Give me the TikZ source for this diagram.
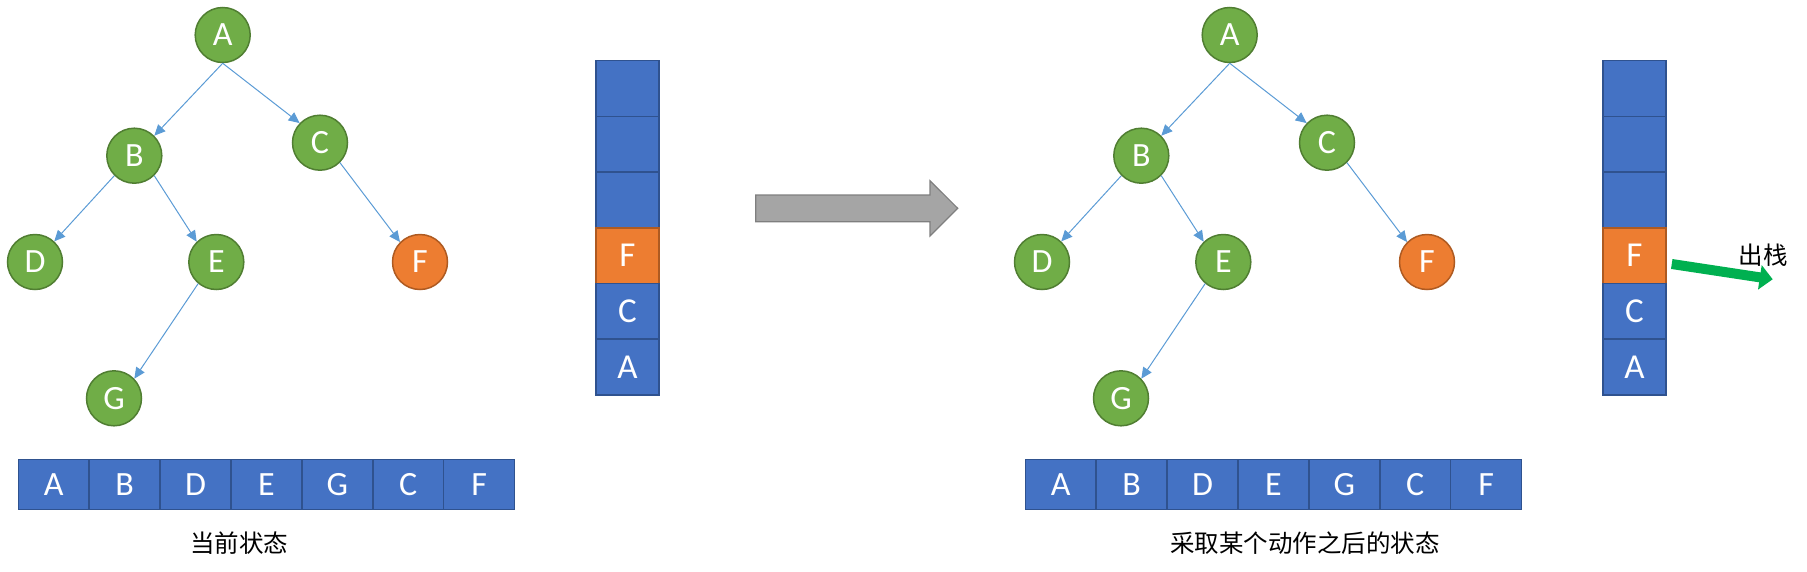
\documentclass[tikz,border=0pt]{standalone}
\usepackage{fontspec}
\setmainfont{Carlito}
\newfontfamily\cjk{Noto Sans CJK SC}
\usetikzlibrary{arrows.meta,calc}
\definecolor{greenfill}{HTML}{70AD47}
\definecolor{greenborder}{HTML}{507E32}
\definecolor{orangefill}{HTML}{ED7D31}
\definecolor{orangeborder}{HTML}{AE5A21}
\definecolor{bluefill}{HTML}{4472C4}
\definecolor{blueborder}{HTML}{2F528F}
\definecolor{edgeblue}{HTML}{5B9BD5}
\definecolor{grayfill}{HTML}{A5A5A5}
\definecolor{grayborder}{HTML}{7F7F7F}
\definecolor{popgreen}{HTML}{00B050}
\tikzset{
  tn/.style={circle, minimum size=55, inner sep=0, draw=greenborder, line width=1.5, fill=greenfill, text=white, font=\fontsize{34}{34}\selectfont},
  tnhot/.style={tn, draw=orangeborder, fill=orangefill},
  edgearr/.style={draw=edgeblue, line width=1, -{Triangle[length=11pt,width=10pt]}},
  scell/.style={rectangle, draw=blueborder, fill=bluefill, line width=1.5, minimum width=63, minimum height=55.7, inner sep=0, text=white, font=\fontsize{35}{35}\selectfont},
  scellhot/.style={scell, draw=orangeborder, fill=orangefill},
  acell/.style={rectangle, draw=blueborder, fill=bluefill, line width=1.5, minimum width=70.9, minimum height=50, inner sep=0, text=white, font=\fontsize{34}{34}\selectfont},
  caption/.style={font=\cjk\fontsize{24.5}{24.5}\selectfont, text=black, inner sep=0}
}
\newcommand{\statepanel}[1]{%
  \node[tn] (#1A) at (222.7,35) {A};
  \node[tn] (#1B) at (134.3,155.7) {B};
  \node[tn] (#1C) at (320,142.7) {C};
  \node[tn] (#1D) at (35,262) {D};
  \node[tn] (#1E) at (216.3,262) {E};
  \node[tnhot] (#1F) at (420,262) {F};
  \node[tn] (#1G) at (114,398.3) {G};
  \draw[edgearr] (#1A.south) -- (#1B.45);
  \draw[edgearr] (#1A.south) -- (#1C.136);
  \draw[edgearr] (#1B.225) -- (#1D.47);
  \draw[edgearr] (#1B.-45) -- (#1E.134);
  \draw[edgearr] (#1C.-45) -- (#1F.135);
  \draw[edgearr] (#1E.230) -- (#1G.44);
  \node[scell] (#1s1) at (627.5,88.5) {};
  \node[scell] (#1s2) at (627.5,144.2) {};
  \node[scell] (#1s3) at (627.5,199.9) {};
  \node[scellhot] (#1s4) at (627.5,255.6) {F};
  \node[scell] (#1s5) at (627.5,311.3) {C};
  \node[scell] (#1s6) at (627.5,367) {A};
  \foreach \t [count=\i from 0] in {A,B,D,E,G,C,F}{
    \node[acell] (#1a\i) at (53.75+\i*70.9,484.3) {\t};
  }
}
\begin{document}
\begin{tikzpicture}[x=1pt,y=-1pt]
\useasboundingbox (0,0) rectangle (1807,571);
\statepanel{l}
\node[caption] (lcap) at (239.2,543.3) {当前状态};
\draw[draw=grayborder, fill=grayfill, line width=1.2]
  (755.7,195) -- (930,195) -- (930,180.7) -- (957.7,208.3) -- (930,236) -- (930,221.7) -- (755.7,221.7) -- cycle;
\begin{scope}[xshift=1007pt]
\statepanel{r}
\node[caption] (rcap) at (298,543.3) {采取某个动作之后的状态};
\end{scope}
\coordinate (popstart) at ($(rs4.east)+(5,8.4)$);
\coordinate (popend) at (1772.7,279.3);
\draw[popgreen, line width=10, -{Triangle[length=13pt,width=24pt]}] (popstart) -- (popend);
\node[caption] (poplbl) at (1763,255) {出栈};
\end{tikzpicture}
\end{document}
